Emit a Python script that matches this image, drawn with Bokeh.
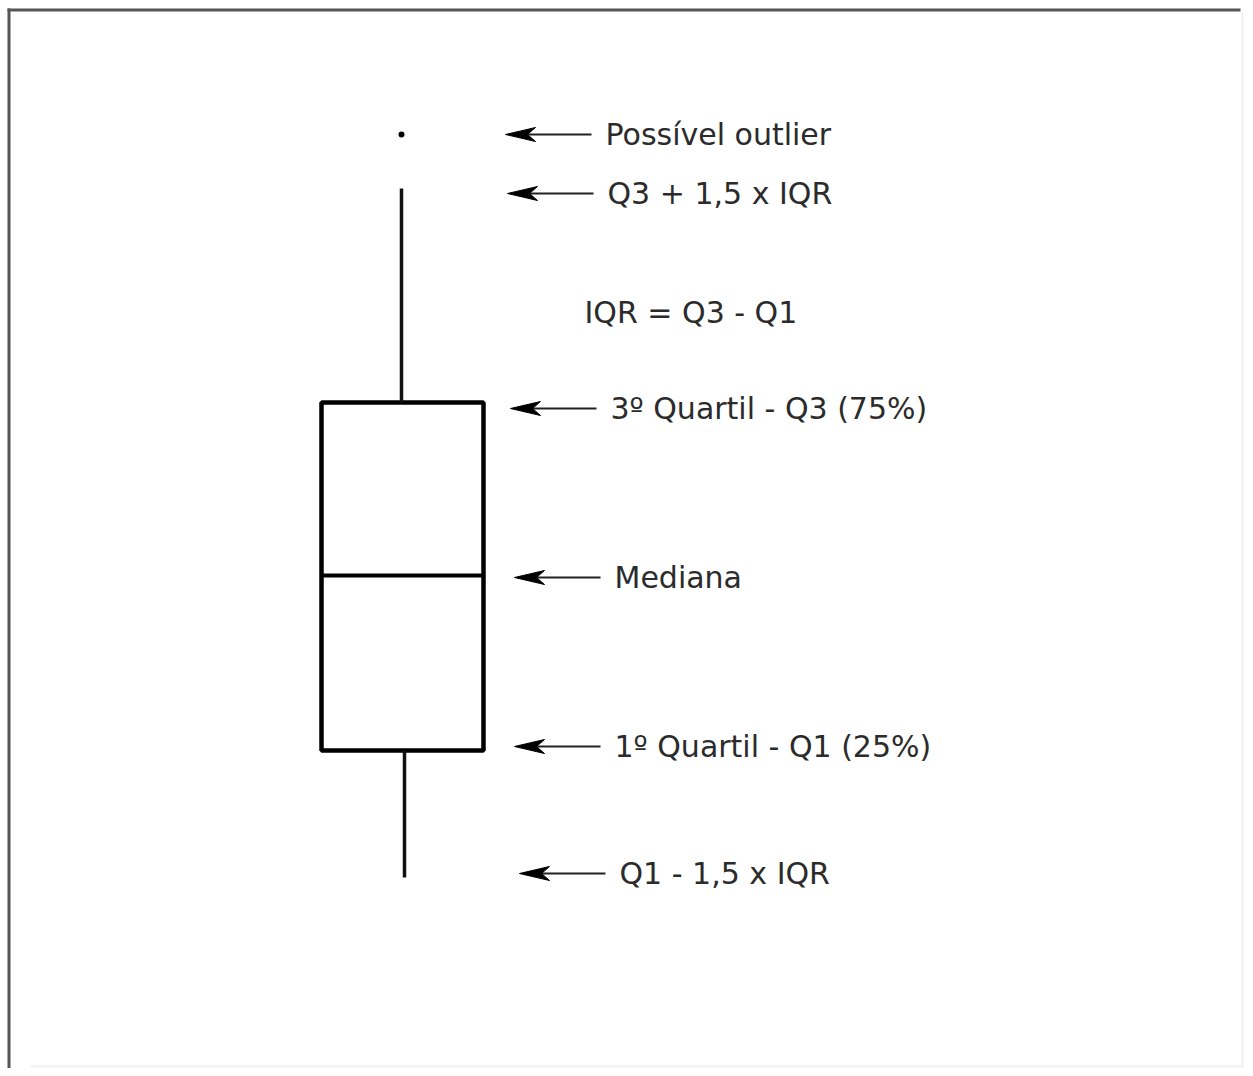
from bokeh.plotting import figure
from bokeh.models import Range1d, ColumnDataSource
from bokeh.core.properties import value
from bokeh.embed import file_html
from bokeh.resources import INLINE

# ---- data (schematic box plot, values in picture-pixel units measured from top) ----
outlier_value = 134
upper_whisker = 188
q3_value = 402
median_value = 575
q1_value = 750
lower_whisker = 877

labels = ["Possível outlier", "Q3 + 1,5 x IQR", "3º Quartil - Q3 (75%)",
          "Mediana", "1º Quartil - Q1 (25%)", "Q1 - 1,5 x IQR"]
label_values = [outlier_value, upper_whisker, q3_value, median_value, q1_value, lower_whisker]
iqr_note = "IQR = Q3 - Q1"

# ---- layout ----
W, H = 1245, 1068
box_x = 402
box_w = 162
upper_whisker_x = 401
lower_whisker_x = 404
arrow_tip_x = [505, 507, 510, 514, 514, 519]
label_dy = [0, 5, 6, 2, -4, -4]
arrow_len = 86
text_gap = 14
note_x, note_y = 584, 312

FONT = value("DejaVu Sans")
TXT = "#2b2b2b"

p = figure(width=W, height=H, x_range=Range1d(0, W), y_range=Range1d(H, 0),
           x_axis_type=None, y_axis_type=None, toolbar_location=None,
           output_backend="svg", min_border=0, outline_line_color=None,
           background_fill_color="white", border_fill_color="white")
p.grid.visible = False

# frame lines (top and left dark, faint right/bottom)
p.segment(x0=[7, 8.5], y0=[9.5, 8], x1=[1240, 8.5], y1=[9.5, H],
          line_color="#555555", line_width=3)
p.segment(x0=[30, 1242], y0=[1066, 12], x1=[1242, 1242], y1=[1066, 1066],
          line_color="#f0f0f0", line_width=2)

# box
p.quad(left=[box_x - box_w / 2], right=[box_x + box_w / 2],
       top=[q3_value], bottom=[q1_value],
       fill_color="white", line_color="black", line_width=4.5)
p.segment(x0=[box_x - box_w / 2], x1=[box_x + box_w / 2],
          y0=[median_value], y1=[median_value], line_color="black", line_width=4)
# whiskers
p.segment(x0=[upper_whisker_x, lower_whisker_x], x1=[upper_whisker_x, lower_whisker_x],
          y0=[upper_whisker, q1_value], y1=[q3_value, lower_whisker],
          line_color="#111111", line_width=3.5)
# outlier
p.scatter(x=[upper_whisker_x], y=[outlier_value], size=6, marker="circle",
          fill_color="black", line_color=None)

# arrows
ys = [v + d for v, d in zip(label_values, label_dy)]
x_end = [t + arrow_len for t in arrow_tip_x]
p.segment(x0=[t + 10 for t in arrow_tip_x], x1=x_end, y0=ys, y1=ys,
          line_color="#222222", line_width=2)
head_xs = [[t, t + 30, t + 22, t + 30] for t in arrow_tip_x]
head_ys = [[y, y - 7, y, y + 7] for y in ys]
p.patches(xs=head_xs, ys=head_ys, fill_color="black", line_color="black", line_width=1)

# labels
src = ColumnDataSource(dict(x=[e + text_gap for e in x_end], y=ys, t=labels))
p.text(x="x", y="y", text="t", source=src, text_font=FONT, text_font_size="30px",
       text_color=TXT, text_baseline="middle", text_align="left")
p.text(x=[note_x], y=[note_y], text=[iqr_note], text_font=FONT, text_font_size="30px",
       text_color=TXT, text_baseline="middle", text_align="left")

open("out.html", "w").write(file_html(p, INLINE))
